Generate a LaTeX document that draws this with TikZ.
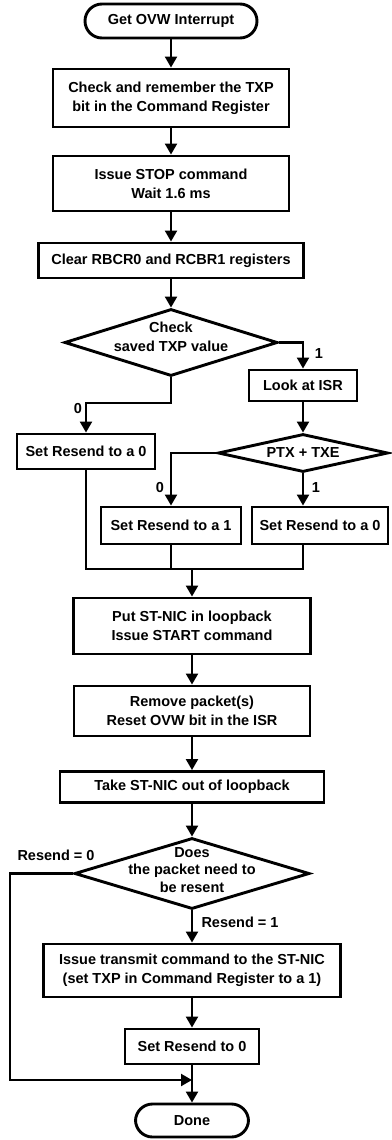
\documentclass[tikz,border=0pt]{standalone}
\usepackage{fontspec}
\setmainfont{Liberation Sans}
\usetikzlibrary{shapes.geometric,arrows.meta}

\begin{document}
\begin{tikzpicture}[x=1pt, y=-1pt,
  font=\bfseries\fontsize{14.5}{19}\selectfont,
  >={Triangle[length=11pt, width=12pt]},
  box/.style={draw, line width=2.9pt, inner sep=0pt, align=center},
  term/.style={box, rounded corners=17pt},
  decision/.style={draw, diamond, line width=2.9pt, inner sep=0pt},
  flow/.style={line width=2.2pt}]
\useasboundingbox (0, 0) rectangle (391, 1140);
\node[term, minimum width=172pt, minimum height=34pt] (start) at (171, 21) {Get OVW Interrupt};
\node[box, minimum width=236pt, minimum height=58pt] (chk) at (171, 98) {Check and remember the TXP\\bit in the Command Register};
\node[box, minimum width=236pt, minimum height=55pt] (stop) at (171, 183.5) {Issue STOP command\\Wait 1.6 ms};
\node[box, minimum width=265pt, minimum height=35pt] (clr) at (171, 260.5) {Clear RBCR0 and RCBR1 registers};
\node[decision, minimum width=213pt, minimum height=67pt] (d1) at (171, 342.5) {};
\node[align=center] (d1txt) at (171, 337) {Check\\saved TXP value};
\node[box, minimum width=108pt, minimum height=31pt] (isr) at (303, 385.5) {Look at ISR};
\node[box, minimum width=138pt, minimum height=35pt] (l0) at (86, 451.5) {Set Resend to a 0};
\node[decision, minimum width=170pt, minimum height=38pt] (d2) at (303, 453) {};
\node (d2txt) at (303, 453) {PTX + TXE};
\node[box, minimum width=140pt, minimum height=37pt] (l1) at (171, 525.5) {Set Resend to a 1};
\node[box, minimum width=136pt, minimum height=37pt] (r0) at (320, 525.5) {Set Resend to a 0};
\node[box, minimum width=237pt, minimum height=56pt] (put) at (192, 626) {Put ST-NIC in loopback\\Issue START command};
\node[box, minimum width=236pt, minimum height=50pt] (rem) at (192, 711) {Remove packet(s)\\Reset OVW bit in the ISR};
\node[box, minimum width=264pt, minimum height=31pt] (take) at (192, 787) {Take ST-NIC out of loopback};
\node[decision, minimum width=235pt, minimum height=71pt] (d3) at (192, 873.5) {};
\node[align=center, font=\bfseries\fontsize{14.5}{17.5}\selectfont] (d3txt) at (192, 870) {Does\\the packet need to\\be resent};
\node[box, minimum width=297pt, minimum height=53pt] (txm) at (192, 970.5) {Issue transmit command to the ST-NIC\\(set TXP in Command Register to a 1)};
\node[box, minimum width=134pt, minimum height=35pt] (set0) at (192, 1046.5) {Set Resend to 0};
\node[term, minimum width=113pt, minimum height=33pt] (done) at (192, 1120.5) {Done};
\node (lb1) at (319, 354) {1};
\node (lb0) at (78, 409) {0};
\node (lb2) at (160, 488) {0};
\node (lb3) at (316, 488) {1};
\node (lb4) at (56, 855) {Resend = 0};
\node (lb5) at (240, 922) {Resend = 1};
\coordinate (j0) at (171, 403);
\coordinate (mrg) at (192, 569);
\coordinate (lft) at (10, 1080);
\coordinate (jn) at (192, 1080);
\draw[flow, ->] (start) -- (chk);
\draw[flow, ->] (chk) -- (stop);
\draw[flow, ->] (stop) -- (clr);
\draw[flow, ->] (clr) -- (d1);
\draw[flow, ->] (d1.east) -| (isr.north);
\draw[flow, ->] (d1.south) -- (j0) -| (l0.north);
\draw[flow, ->] (isr) -- (d2);
\draw[flow, ->] (d2.west) -| (l1.north);
\draw[flow, ->] (d2.south) -- (d2.south |- r0.north);
\draw[flow] (l0.south) |- (mrg);
\draw[flow] (l1.south) |- (mrg);
\draw[flow] (d2.south |- r0.south) |- (mrg);
\draw[flow, ->] (mrg) -- (put.north);
\draw[flow, ->] (put) -- (rem);
\draw[flow, ->] (rem) -- (take);
\draw[flow, ->] (take) -- (d3);
\draw[flow, ->] (d3) -- (txm);
\draw[flow, ->] (txm) -- (set0);
\draw[flow, ->] (set0) -- (done);
\draw[flow, ->] (d3.west) -| (lft) -- (jn);
\end{tikzpicture}
\end{document}
